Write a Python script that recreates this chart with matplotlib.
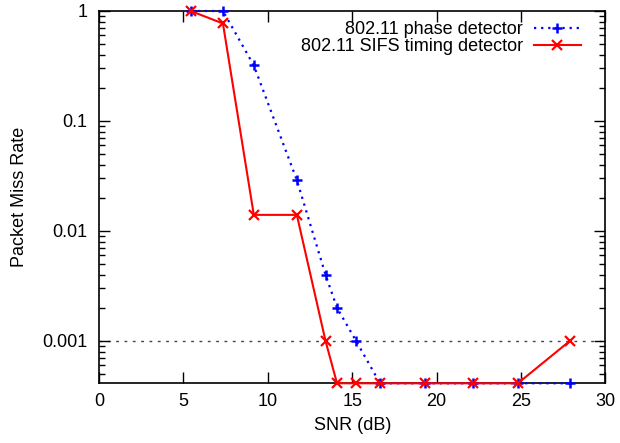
import matplotlib
matplotlib.use("Agg")
import matplotlib.pyplot as plt
import numpy as np

plt.rcParams['font.family'] = ['Liberation Sans', 'DejaVu Sans']

# SNR points (dB), shared by both detectors
snr = [5.43, 7.34, 9.17, 11.72, 13.42, 14.1, 15.23, 16.65, 19.33, 22.13, 24.82, 27.9]
# miss rates; 0 = no miss, drawn on the bottom border like gnuplot does
phase_miss = [1.0, 1.0, 0.32, 0.029, 0.004, 0.002, 0.001, 0, 0, 0, 0, 0]
sifs_miss = [1.0, 0.77, 0.014, 0.014, 0.001, 0, 0, 0, 0, 0, 0, 0.001]

ytick_vals = [1, 0.1, 0.01, 0.001]
ytick_labels = ['1', '0.1', '0.01', '0.001']
ref_level = 0.001

ymin = 0.000412
ymax = 1.0
fs = 13

fig = plt.figure(figsize=(6.2, 4.43), dpi=100)
ax = fig.add_axes([0.1598, 0.1348, 0.8165, 0.8404])

ph = np.where(np.array(phase_miss) > 0, phase_miss, ymin)
sf = np.where(np.array(sifs_miss) > 0, sifs_miss, ymin)

ax.axhline(ref_level, color='#444444', lw=1, ls=(0, (2, 4)), zorder=1)

ax.plot(snr, ph, color='#0000ff', lw=1.6, ls=(0, (1, 2.2)), marker='+',
        ms=6.5, mew=1.8, label='802.11 phase detector', clip_on=False, zorder=3)
ax.plot(snr, sf, color='#ff0000', lw=1.5, ls='-', marker='x',
        ms=6.5, mew=1.6, label='802.11 SIFS timing detector', clip_on=False, zorder=4)

ax.set_yscale('log')
ax.set_ylim(ymin, ymax)
ax.set_xlim(0, 30)
ax.set_xticks(range(0, 31, 5))
ax.set_yticks(ytick_vals)
ax.set_yticklabels(ytick_labels)
ax.yaxis.set_minor_locator(matplotlib.ticker.LogLocator(base=10, subs=np.arange(2, 10)))
ax.yaxis.set_minor_formatter(matplotlib.ticker.NullFormatter())

ax.tick_params(which='both', direction='in', top=True, right=True, labelsize=fs, width=1)
ax.tick_params(axis='y', pad=8.5)
ax.tick_params(axis='x', pad=7)
ax.tick_params(which='major', length=8)
ax.tick_params(which='minor', length=4)
for s in ax.spines.values():
    s.set_linewidth(1.2)

ax.set_xlabel('SNR (dB)', fontsize=fs, labelpad=5)
ax.set_ylabel('Packet Miss Rate', fontsize=fs, labelpad=10)

leg = ax.legend(loc='upper right', frameon=False, markerfirst=False, fontsize=fs,
                handlelength=2.6, handletextpad=0.6, labelspacing=0.0,
                borderpad=0, borderaxespad=0, bbox_to_anchor=(0.951, 0.972))
# right-align the labels like gnuplot's key
for col in leg._legend_handle_box.get_children():
    col.align = 'right'

fig.savefig('out.png', dpi=100)
